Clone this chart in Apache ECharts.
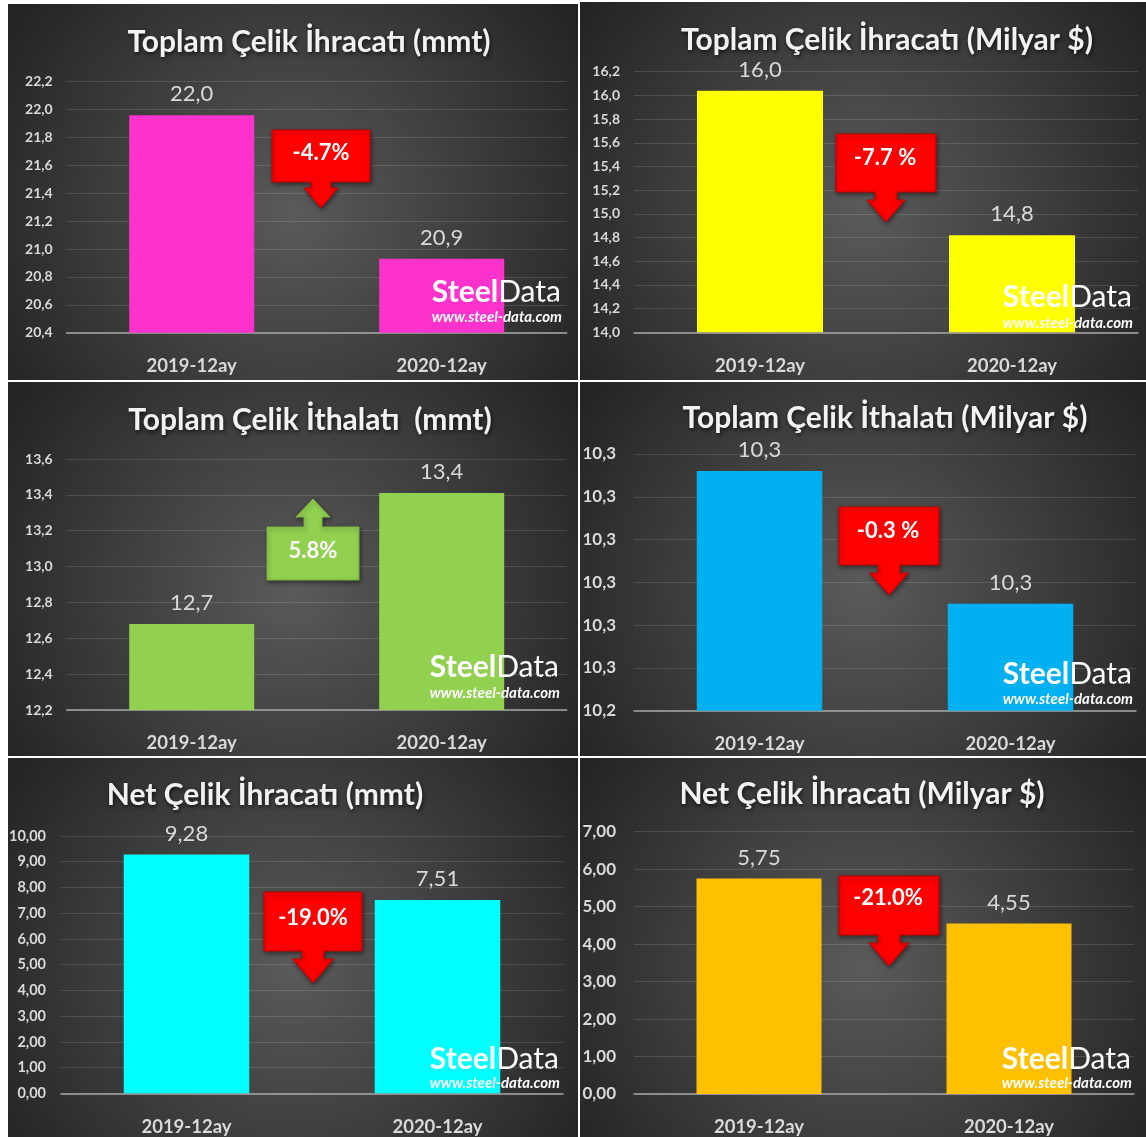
<!DOCTYPE html>
<html><head><meta charset="utf-8">
<script src="https://cdn.jsdelivr.net/npm/echarts@6/dist/echarts.min.js"></script>
<style>html,body{margin:0;padding:0;background:#fff;}#c{width:1146px;height:1137px;}</style>
</head><body><div id="c"></div>
<script>
// ---------- DATA ----------
const categories = ['2019-12ay', '2020-12ay'];
const titles = [
  'Toplam Çelik İhracatı (mmt)',
  'Toplam Çelik İhracatı (Milyar $)',
  'Toplam Çelik İthalatı  (mmt)',
  'Toplam Çelik İthalatı (Milyar $)',
  'Net Çelik İhracatı (mmt)',
  'Net Çelik İhracatı (Milyar $)'
];
const exportMmt = [21.96, 20.93];
const exportUsd = [16.04, 14.82];
const importMmt = [12.68, 13.41];
const importUsd = [10.296, 10.265];
const netExportMmt = [9.28, 7.51];
const netExportUsd = [5.75, 4.55];
const changeLabels = ['-4.7%', '-7.7 %', '5.8%', '-0.3 %', '-19.0%', '-21.0%'];
const changeUp = [false, false, true, false, false, false];
const yMin = [20.4, 14.0, 12.2, 10.24, 0, 0];
const yMax = [22.2, 16.2, 13.6, 10.30, 10, 7];
const yStep = [0.2, 0.2, 0.2, 0.01, 1, 1];
const decimals = [1, 1, 1, 1, 2, 2];
const seriesData = [exportMmt, exportUsd, importMmt, importUsd, netExportMmt, netExportUsd];

// ---------- STYLE / LAYOUT ----------
const FONT = 'Lato';
const barColors = ['#FF33CC', '#FFFF00', '#92D050', '#00B0F0', '#00FFFF', '#FFC000'];
const panels = [
  {x: 8, y: 4, w: 570, h: 376},
  {x: 580, y: 2, w: 566, h: 378},
  {x: 8, y: 382, w: 570, h: 374},
  {x: 580, y: 382, w: 566, h: 374},
  {x: 8, y: 758, w: 570, h: 379},
  {x: 580, y: 758, w: 566, h: 379}
];
const grids = [
  {left: 66.7, top: 81.7, width: 500, height: 251},
  {left: 634, top: 71.7, width: 504, height: 260.6},
  {left: 66.7, top: 459, width: 500, height: 251},
  {left: 634, top: 454, width: 502, height: 256.7},
  {left: 61, top: 836, width: 502, height: 257.3},
  {left: 634, top: 831.7, width: 500, height: 264}
];
const yLabelSize = [14, 14, 14, 17, 14.5, 17];
const yLabelMargin = [14, 14, 14, 18, 15, 18];
const titlePos = [
  {cx: 309, top: 27.5}, {cx: 887, top: 25.5}, {cx: 310, top: 405.5},
  {cx: 885, top: 403.5}, {cx: 265, top: 780.5}, {cx: 862, top: 779.5}
];
const arrows = [
  {cx: 321, top: 130, w: 98, h: 52, sw: 20, sh: 6, hw: 34, hh: 20, tx: 321, ty: 153},
  {cx: 886, top: 134, w: 100, h: 58, sw: 22, sh: 8, hw: 38, hh: 22, tx: 885, ty: 158},
  {cx: 313, top: 527, w: 92, h: 53, sw: 18, sh: 10, hw: 34, hh: 18, tx: 313, ty: 551},
  {cx: 889, top: 507, w: 100, h: 58, sw: 22, sh: 8, hw: 39, hh: 22, tx: 888, ty: 531},
  {cx: 313, top: 892, w: 98, h: 59, sw: 22, sh: 8, hw: 41, hh: 24, tx: 313, ty: 918},
  {cx: 889, top: 876, w: 100, h: 59, sw: 22, sh: 8, hw: 40, hh: 23, tx: 888, ty: 898}
];
const marks = [
  {r: 561, b1: 301.7, b2: 321.7}, {r: 1132, b1: 306.7, b2: 328},
  {r: 559, b1: 676.7, b2: 698}, {r: 1132, b1: 683, b2: 704},
  {r: 559, b1: 1068, b2: 1088}, {r: 1131, b1: 1068, b2: 1088}
];

function fmt(v, d) {
  const f = Math.pow(10, d);
  return (Math.round(v * f + 1e-6) / f).toFixed(d).replace('.', ',');
}

function calloutPoints(a, up) {
  const x0 = a.cx - a.w / 2, x1 = a.cx + a.w / 2;
  const y0 = a.top, y1 = a.top + a.h;
  if (!up) {
    const hb = y1 + a.sh, tip = hb + a.hh;
    return [[x0, y0], [x1, y0], [x1, y1], [a.cx + a.sw / 2, y1], [a.cx + a.sw / 2, hb],
      [a.cx + a.hw / 2, hb], [a.cx, tip], [a.cx - a.hw / 2, hb], [a.cx - a.sw / 2, hb],
      [a.cx - a.sw / 2, y1], [x0, y1]];
  } else {
    const hb = y0 - a.sh, tip = hb - a.hh;
    return [[x0, y1], [x0, y0], [a.cx - a.sw / 2, y0], [a.cx - a.sw / 2, hb],
      [a.cx - a.hw / 2, hb], [a.cx, tip], [a.cx + a.hw / 2, hb], [a.cx + a.sw / 2, hb],
      [a.cx + a.sw / 2, y0], [x1, y0], [x1, y1]];
  }
}

const chart = echarts.init(document.getElementById('c'), null, {renderer: 'canvas'});

const graphic = [];
panels.forEach(p => {
  graphic.push({
    type: 'rect', z: -10, silent: true,
    shape: {x: p.x, y: p.y, width: p.w, height: p.h},
    style: {
      fill: new echarts.graphic.RadialGradient(0.5, 0.55, 0.9, [
        {offset: 0, color: '#5a5a5a'},
        {offset: 1, color: '#242424'}
      ])
    }
  });
});
arrows.forEach((a, i) => {
  const up = changeUp[i];
  graphic.push({
    type: 'polygon', z: 50,
    shape: {points: calloutPoints(a, up)},
    style: {
      fill: up ? '#92D050' : '#FF0000',
      stroke: up ? '#7fb744' : '#C00000', lineWidth: 1,
      shadowBlur: 4, shadowColor: 'rgba(0,0,0,0.45)', shadowOffsetX: 1, shadowOffsetY: 2
    }
  });
  graphic.push({
    type: 'text', z: 51, x: a.tx, y: a.ty,
    style: {
      text: changeLabels[i], fill: '#ffffff',
      font: 'bold 22px ' + FONT,
      textAlign: 'center', textVerticalAlign: 'middle'
    }
  });
});
marks.forEach(m => {
  graphic.push({
    type: 'text', z: 60, x: m.r, y: m.b1 + 6,
    style: {
      text: '{a|Steel}{b|Data}',
      textAlign: 'right', textVerticalAlign: 'bottom',
      rich: {
        a: {fontFamily: FONT, fontWeight: 'bold', fontSize: 30, fill: '#ffffff', color: '#ffffff'},
        b: {fontFamily: FONT, fontWeight: 'normal', fontSize: 30, fill: '#ffffff', color: '#ffffff'}
      }
    }
  });
  graphic.push({
    type: 'text', z: 61, x: m.r - 2, y: m.b1 + 5,
    style: {
      text: 'pure data', fill: 'rgba(40,40,40,0.85)',
      font: 'italic 8px ' + FONT,
      textAlign: 'right', textVerticalAlign: 'bottom'
    }
  });
  graphic.push({
    type: 'text', z: 60, x: m.r + 1, y: m.b2 + 3,
    style: {
      text: 'www.steel-data.com', fill: '#ffffff',
      font: 'italic bold 15px ' + FONT,
      textAlign: 'right', textVerticalAlign: 'bottom'
    }
  });
});

const option = {
  backgroundColor: '#ffffff',
  animation: false,
  title: titles.map((t, i) => ({
    text: t, left: titlePos[i].cx, top: titlePos[i].top, textAlign: 'center', padding: 0,
    textStyle: {
      color: '#f2f2f2', fontFamily: FONT, fontWeight: 'bold', fontSize: 30,
      textShadowColor: 'rgba(0,0,0,0.7)', textShadowBlur: 4, textShadowOffsetX: 1, textShadowOffsetY: 2
    }
  })),
  grid: grids.map(g => Object.assign({containLabel: false}, g)),
  xAxis: grids.map((g, i) => ({
    type: 'category', gridIndex: i, data: categories,
    axisLine: {show: true, onZero: false, lineStyle: {color: '#a6a6a6', width: 1.5}},
    axisTick: {show: false},
    axisLabel: {color: '#d9d9d9', fontFamily: FONT, fontWeight: 'bold', fontSize: 18.5, margin: 24}
  })),
  yAxis: grids.map((g, i) => ({
    type: 'value', gridIndex: i, min: yMin[i], max: yMax[i], interval: yStep[i],
    axisLine: {show: false}, axisTick: {show: false},
    splitLine: {lineStyle: {color: 'rgba(255,255,255,0.13)', width: 1}},
    axisLabel: {
      color: '#d9d9d9', fontFamily: FONT, fontWeight: 'bold', fontSize: yLabelSize[i],
      margin: yLabelMargin[i], formatter: v => fmt(v, decimals[i])
    }
  })),
  series: seriesData.map((d, i) => ({
    type: 'bar', xAxisIndex: i, yAxisIndex: i, data: d, barWidth: '50%',
    itemStyle: {color: barColors[i]},
    label: {
      show: true, position: 'top', distance: 10, color: '#d9d9d9',
      fontFamily: FONT, fontSize: 22, formatter: p => fmt(p.value, decimals[i])
    }
  })),
  graphic: {elements: graphic}
};
chart.setOption(option);
</script></body></html>
